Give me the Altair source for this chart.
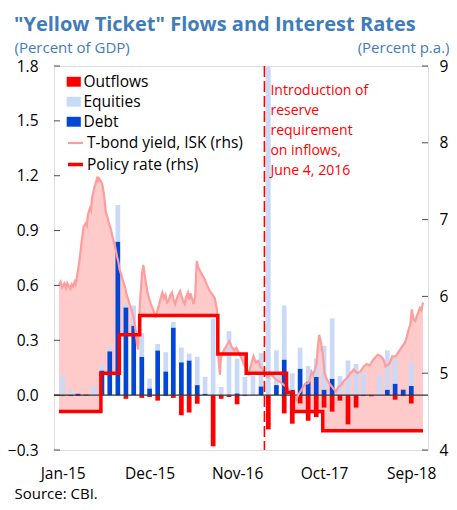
import altair as alt
import pandas as pd

BLUE_TXT = "#3F7CBA"
FONT = "Open Sans"

# ---------------- monthly flows (percent of GDP) ----------------
months = [
    "2015-01-01", "2015-02-01", "2015-03-01", "2015-04-01", "2015-05-01", "2015-06-01",
    "2015-07-01", "2015-08-01", "2015-09-01", "2015-10-01", "2015-11-01", "2015-12-01",
    "2016-01-01", "2016-02-01", "2016-03-01", "2016-04-01", "2016-05-01", "2016-06-01",
    "2016-07-01", "2016-08-01", "2016-09-01", "2016-10-01", "2016-11-01", "2016-12-01",
    "2017-01-01", "2017-02-01", "2017-03-01", "2017-04-01", "2017-05-01", "2017-06-01",
    "2017-07-01", "2017-08-01", "2017-09-01", "2017-10-01", "2017-11-01", "2017-12-01",
    "2018-01-01", "2018-02-01", "2018-03-01", "2018-04-01", "2018-05-01", "2018-06-01",
    "2018-07-01", "2018-08-01", "2018-09-01",
]
debt = [
    0.0, 0.0, 0.008, 0.004, 0.0, 0.135,
    0.24, 0.84, 0.48, 0.38, 0.21, 0.037,
    0.245, 0.13, 0.37, 0.18, 0.19, 0.055,
    0.008, 0.0, 0.0, 0.0, 0.01, 0.0,
    0.0, 0.048, 0.0, 0.055, 0.195, 0.03,
    0.145, 0.075, 0.10, 0.03, 0.09, 0.0,
    0.0, 0.0, 0.0, 0.0, 0.0, 0.03,
    0.063, 0.03, 0.05,
]
equities = [
    0.11, 0.03, 0.002, 0.003, 0.05, 0.025,
    0.025, 0.20, 0.02, 0.11, 0.13, 0.053,
    0.035, 0.105, 0.03, 0.08, 0.037, 0.155,
    0.092, 0.42, 0.045, 0.35, 0.19, 0.10,
    0.105, 0.182, 1.95, 0.19, 0.295, 0.09,
    0.115, 0.085, 0.10, 0.24, 0.33, 0.105,
    0.19, 0.17, 0.125, 0.0, 0.11, 0.215,
    0.137, 0.0, 0.128,
]
outflows = [
    -0.005, -0.005, -0.004, -0.003, 0.0, 0.0,
    0.0, 0.0, -0.02, 0.0, -0.015, -0.01,
    -0.03, -0.005, -0.015, -0.11, -0.095, -0.047,
    0.0, -0.28, -0.02, -0.01, -0.05, -0.005,
    0.0, 0.0, -0.187, 0.0, -0.10, -0.156,
    -0.045, -0.14, -0.12, -0.068, -0.09, -0.03,
    -0.16, -0.068, -0.005, -0.006, 0.0, 0.0,
    -0.025, -0.005, -0.046,
]

# ---------------- T-bond yield, ISK (percent p.a.) ----------------
yield_dates = [
    "2014-12-18", "2014-12-24", "2014-12-30", "2015-01-08", "2015-01-14", "2015-01-19",
    "2015-01-26", "2015-01-30", "2015-02-05", "2015-02-10", "2015-02-16", "2015-02-20",
    "2015-02-27", "2015-03-06", "2015-03-14", "2015-03-22", "2015-03-30", "2015-04-04",
    "2015-04-08", "2015-04-16", "2015-04-20", "2015-04-24", "2015-05-03", "2015-05-10",
    "2015-05-15", "2015-05-18", "2015-05-22", "2015-05-28", "2015-06-03", "2015-06-09",
    "2015-06-16", "2015-06-23", "2015-06-28", "2015-07-04", "2015-07-10", "2015-07-16",
    "2015-07-22", "2015-07-29", "2015-08-03", "2015-08-07", "2015-08-15", "2015-08-23",
    "2015-08-29", "2015-09-04", "2015-09-10", "2015-09-16", "2015-09-22", "2015-09-29",
    "2015-10-04", "2015-10-08", "2015-10-14", "2015-10-18", "2015-10-24", "2015-10-29",
    "2015-11-02", "2015-11-07", "2015-11-12", "2015-11-17", "2015-11-23", "2015-11-30",
    "2015-12-06", "2015-12-12", "2015-12-18", "2015-12-25", "2015-12-31", "2016-01-06",
    "2016-01-12", "2016-01-19", "2016-01-25", "2016-01-31", "2016-02-06", "2016-02-12",
    "2016-02-18", "2016-02-25", "2016-03-02", "2016-03-08", "2016-03-14", "2016-03-20",
    "2016-03-27", "2016-04-03", "2016-04-09", "2016-04-14", "2016-04-20", "2016-04-26",
    "2016-05-01", "2016-05-06", "2016-05-12", "2016-05-18", "2016-05-24", "2016-05-30",
    "2016-06-05", "2016-06-12", "2016-06-20", "2016-06-30", "2016-07-08", "2016-07-19",
    "2016-07-28", "2016-08-07", "2016-08-16", "2016-08-19", "2016-08-27", "2016-08-31",
    "2016-09-06", "2016-09-13", "2016-09-22", "2016-10-02", "2016-10-10", "2016-10-20",
    "2016-10-29", "2016-11-08", "2016-11-17", "2016-11-27", "2016-12-06", "2016-12-15",
    "2016-12-24", "2017-01-03", "2017-01-12", "2017-01-21", "2017-01-30", "2017-02-09",
    "2017-02-18", "2017-02-28", "2017-03-09", "2017-03-18", "2017-03-30", "2017-04-12",
    "2017-04-25", "2017-05-10", "2017-05-17", "2017-05-25", "2017-06-05", "2017-06-16",
    "2017-06-24", "2017-07-02", "2017-07-11", "2017-07-20", "2017-08-02", "2017-08-08",
    "2017-08-14", "2017-08-20", "2017-08-27", "2017-09-02", "2017-09-06", "2017-09-12",
    "2017-09-18", "2017-09-26", "2017-10-03", "2017-10-09", "2017-10-18", "2017-10-28",
    "2017-11-06", "2017-11-16", "2017-11-25", "2017-12-04", "2017-12-16", "2017-12-29",
    "2018-01-10", "2018-01-23", "2018-02-04", "2018-02-17", "2018-03-01", "2018-03-13",
    "2018-03-25", "2018-04-05", "2018-04-14", "2018-04-26", "2018-05-08", "2018-05-17",
    "2018-05-25", "2018-06-08", "2018-06-20", "2018-07-03", "2018-07-15", "2018-07-28",
    "2018-08-08", "2018-08-15", "2018-08-22", "2018-08-28", "2018-09-03", "2018-09-10",
    "2018-09-16", "2018-09-24", "2018-10-04", "2018-10-10", "2018-10-16",
]
yield_vals = [
    6.15, 6.19, 6.12, 6.17, 6.11, 6.17,
    6.13, 6.10, 6.16, 6.13, 6.19, 6.16,
    6.30, 6.45, 6.68, 6.90, 6.95, 6.92,
    7.06, 7.15, 7.12, 7.28, 7.42, 7.50,
    7.56, 7.49, 7.53, 7.50, 7.45, 7.32,
    7.10, 7.02, 6.95, 6.89, 6.80, 6.72,
    6.64, 6.52, 6.45, 6.36, 6.27, 6.18,
    6.12, 6.02, 5.96, 5.89, 5.83, 5.75,
    5.66, 5.55, 5.37, 5.31, 5.85, 6.12,
    6.30, 6.41, 6.28, 6.17, 6.05, 5.96,
    5.90, 5.85, 5.80, 5.72, 5.82, 5.89,
    5.97, 6.05, 5.98, 6.02, 5.92, 5.94,
    6.01, 6.05, 5.95, 5.90, 5.97, 6.02,
    6.07, 5.99, 5.93, 5.90, 6.00, 6.05,
    5.96, 6.04, 5.97, 5.90, 6.00, 6.46,
    6.38, 6.33, 6.28, 6.22, 6.15, 6.07,
    6.03, 5.98, 5.82, 5.30, 4.98, 5.20,
    5.26, 5.31, 5.36, 5.42, 5.35, 5.30,
    5.33, 5.26, 5.20, 5.12, 5.07, 5.00,
    5.10, 5.22, 5.14, 5.16, 5.08, 5.04,
    4.98, 4.95, 4.99, 4.96, 4.92, 4.89,
    4.86, 4.82, 4.79, 4.76, 4.72, 4.66,
    4.72, 4.76, 4.81, 4.86, 4.87, 4.93,
    5.02, 4.98, 5.05, 5.12, 5.30, 5.50,
    5.42, 5.25, 5.00, 4.94, 4.88, 4.84,
    4.80, 4.76, 4.82, 4.84, 4.90, 4.94,
    5.00, 5.05, 5.00, 5.02, 5.08, 5.12,
    5.10, 5.16, 5.20, 5.24, 5.22, 5.18,
    5.09, 5.12, 5.22, 5.22, 5.28, 5.35,
    5.40, 5.48, 5.57, 5.63, 5.83, 5.70,
    5.68, 5.76, 5.85, 5.82, 5.92,
]

# ---------------- Policy rate (percent p.a.) ----------------
policy_start = ["2014-12-18", "2015-05-28", "2015-08-07", "2015-10-24", "2016-08-19",
                "2016-12-06", "2017-05-10", "2017-06-05", "2017-09-26"]
policy_rate = [4.50, 5.00, 5.50, 5.75, 5.25, 5.00, 4.75, 4.50, 4.25]
end_date = "2018-10-16"

# ---------------- event ----------------
event_date = "2017-02-14"
event_text = ["Introduction of", "reserve", "requirement", "on inflows,", "June 4, 2016"]

# ---------------- axes ----------------
left_ticks = [-0.3, 0.0, 0.3, 0.6, 0.9, 1.2, 1.5, 1.8]
right_ticks = [4, 5, 6, 7, 8, 9]
x_label_dates = [(2015, 1), (2015, 12), (2016, 11), (2017, 10), (2018, 9)]

# ---------------- tables ----------------
bars = pd.DataFrame(
    [{"date": m, "type": "Debt", "value": d, "ord": 0} for m, d in zip(months, debt)]
    + [{"date": m, "type": "Equities", "value": e, "ord": 1} for m, e in zip(months, equities)]
    + [{"date": m, "type": "Outflows", "value": o, "ord": 2} for m, o in zip(months, outflows)]
)


def rate_at(d, strict):
    r = policy_rate[0]
    for s, v in zip(policy_start, policy_rate):
        if (s < d) if strict else (s <= d):
            r = v
    return r


fill_rows = []
for d, y in zip(yield_dates, yield_vals):
    before, after = rate_at(d, True), rate_at(d, False)
    fill_rows.append({"date": d + "T00:00:00Z", "yield": y, "policy": before})
    if after != before:
        fill_rows.append({"date": d + "T01:00:00Z", "yield": y, "policy": after})
fill_df = pd.DataFrame(fill_rows)

yield_df = pd.DataFrame({"date": yield_dates, "value": yield_vals,
                         "series": "T-bond yield, ISK (rhs)"})
policy_df = pd.DataFrame({"date": policy_start + [end_date],
                          "value": policy_rate + [policy_rate[-1]],
                          "series": "Policy rate (rhs)"})
event_df = pd.DataFrame({"date": [event_date], "label": [event_text]})
left_tick_df = pd.DataFrame({"v": left_ticks})
right_tick_df = pd.DataFrame({"v": right_ticks})

# ---------------- layout ----------------
PLOT_W, PLOT_H = 374, 384
PAD_L, PAD_T, PAD_R, PAD_B = 46, 58, 21, 52

# ---------------- scales / encodings ----------------
x_scale = alt.Scale(type="utc", domain=[
    alt.DateTime(year=2014, month=12, date=18, utc=True),
    alt.DateTime(year=2018, month=10, date=16, utc=True)])
x_axis = alt.Axis(
    values=[alt.DateTime(year=y, month=m, date=1, utc=True) for y, m in x_label_dates],
    format="%b-%y", labelFontSize=15.5, labelFont=FONT, labelColor="black",
    tickSize=0, domain=False, grid=False, labelPadding=16,
    title="Source: CBI.", titleFont=FONT, titleFontSize=15, titleFontWeight="normal",
    titleColor="black", titleAnchor="start", titleAlign="left", titleBaseline="alphabetic",
    titleX=-40, titleY=48)
X = alt.X("date:T", scale=x_scale, axis=x_axis)

left_scale = alt.Scale(domain=[-0.3, 1.8], nice=False, zero=False)
right_scale = alt.Scale(domain=[4, 9], nice=False, zero=False)

left_axis = alt.Axis(
    orient="left", values=left_ticks, format=".1f", labelFontSize=15.5, labelFont=FONT,
    labelColor="black", tickSize=0, domain=False, grid=False, labelPadding=16,
    title="(Percent of GDP)", titleAngle=0, titleX=-40, titleY=-14, titleAlign="left",
    titleAnchor="start", titleBaseline="alphabetic", titleFont=FONT, titleFontSize=15,
    titleFontWeight="normal", titleColor=BLUE_TXT)
right_axis = alt.Axis(
    orient="right", values=right_ticks, format="d", labelFontSize=15.5, labelFont=FONT,
    labelColor="black", tickSize=0, domain=False, grid=False, labelPadding=11,
    title="(Percent p.a.)", titleAngle=0, titleX=PAD_R, titleY=-14, titleAlign="right",
    titleAnchor="start", titleBaseline="alphabetic", titleFont=FONT, titleFontSize=15,
    titleFontWeight="normal", titleColor=BLUE_TXT)

# ---------------- layers ----------------
fill = alt.Chart(fill_df).mark_area(color="#FFCACA", clip=True).encode(
    x=X,
    y=alt.Y("yield:Q", scale=right_scale, axis=right_axis),
    y2="policy:Q",
)

bar_layer = alt.Chart(bars).mark_bar(size=4.7, clip=True).encode(
    x=X,
    y=alt.Y("value:Q", scale=left_scale, axis=left_axis, stack="zero"),
    color=alt.Color("type:N",
                    scale=alt.Scale(domain=["Outflows", "Equities", "Debt"],
                                    range=["#FF0000", "#C9DAF8", "#0047D6"]),
                    legend=alt.Legend(orient="none", legendX=12, legendY=8, title=None,
                                      symbolType="M-1,-0.7H1V0.7H-1Z", symbolSize=200,
                                      symbolStrokeWidth=0, labelFontSize=15.5, labelFont=FONT,
                                      labelColor="black", labelOffset=2, rowPadding=3,
                                      padding=0)),
    order=alt.Order("ord:Q"),
)

zero_rule = alt.Chart(pd.DataFrame({"v": [0.0]})).mark_rule(color="#333333", strokeWidth=1.2).encode(
    y=alt.Y("v:Q", scale=left_scale, axis=None))

left_tick_layer = alt.Chart(left_tick_df).mark_tick(
    orient="horizontal", size=6, thickness=1, color="black").encode(
    y=alt.Y("v:Q", scale=left_scale, axis=None), x=alt.value(3))
right_tick_layer = alt.Chart(right_tick_df).mark_tick(
    orient="horizontal", size=6, thickness=1, color="black").encode(
    y=alt.Y("v:Q", scale=right_scale, axis=None), x=alt.value(PLOT_W - 3))

line_legend = alt.Legend(orient="none", legendX=12, legendY=68, title=None,
                         symbolType="stroke", symbolSize=225, labelFontSize=15.5,
                         labelFont=FONT, labelColor="black", labelOffset=2, rowPadding=3,
                         padding=0)
line_domain = ["T-bond yield, ISK (rhs)", "Policy rate (rhs)"]
stroke_enc = alt.Stroke("series:N", scale=alt.Scale(domain=line_domain,
                                                     range=["#FF9C9C", "#FF0000"]),
                        legend=line_legend)
width_enc = alt.StrokeWidth("series:N", scale=alt.Scale(domain=line_domain, range=[2.2, 3.5]),
                            legend=line_legend)

yield_line = alt.Chart(yield_df).mark_line(clip=True).encode(
    x=X, y=alt.Y("value:Q", scale=right_scale, axis=None),
    stroke=stroke_enc, strokeWidth=width_enc)

policy_line = alt.Chart(policy_df).mark_line(interpolate="step-after", clip=True).encode(
    x=X, y=alt.Y("value:Q", scale=right_scale, axis=None),
    stroke=stroke_enc, strokeWidth=width_enc)

event_rule = alt.Chart(event_df).mark_rule(
    color="#FF0000", strokeWidth=1.6, strokeDash=[11, 4]).encode(x=X)

event_label = alt.Chart(event_df).mark_text(
    align="left", baseline="top", dx=6, fontSize=14, font=FONT, color="#FF0000",
    lineHeight=20).encode(x=X, y=alt.value(18), text="label")

chart = alt.layer(
    fill, bar_layer, zero_rule, left_tick_layer, right_tick_layer,
    yield_line, policy_line, event_rule, event_label,
).resolve_scale(y="independent").properties(
    width=PLOT_W, height=PLOT_H,
    autosize=alt.AutoSizeParams(type="none"),
    padding={"left": PAD_L, "top": PAD_T, "right": PAD_R, "bottom": PAD_B},
    title=alt.TitleParams('"Yellow Ticket" Flows and Interest Rates', anchor="start",
                          frame="group", dx=-40, dy=-3, fontSize=20, font=FONT,
                          fontWeight="bold", color=BLUE_TXT, offset=2),
).configure_view(stroke="black", strokeWidth=1.3).configure(background="white")

chart.save("out.html", embed_options={"renderer": "svg", "actions": False})
